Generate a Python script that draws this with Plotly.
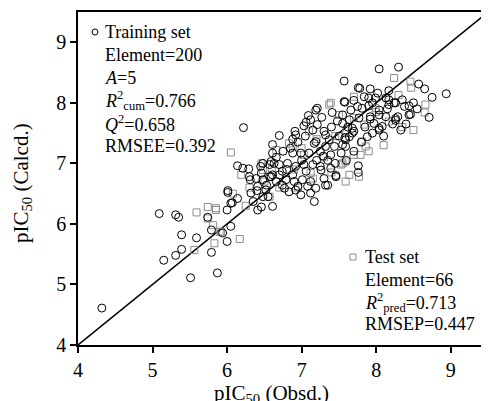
import plotly.graph_objects as go

# Training set (observed, calculated)
train_obsd = [4.32, 5.09, 5.31, 5.35, 5.15, 5.39, 5.31, 5.39, 5.59, 5.51, 5.87, 5.79, 5.79, 6.00, 6.05, 6.00, 5.74, 6.07, 6.22, 6.14,
              6.01, 8.04, 8.30, 7.57, 8.57, 8.65, 8.94, 8.75, 8.71, 8.46, 8.38, 8.44, 8.29, 8.26, 8.33, 7.76, 7.92, 8.02, 8.17, 7.19,
              7.27, 7.09, 7.06, 7.58, 7.41, 7.17, 7.32, 6.83, 7.46, 7.76, 7.76, 6.29, 6.61, 6.63, 6.01, 6.05, 6.14, 6.32, 6.35, 6.41,
              6.46, 6.31, 6.39, 6.48, 6.53, 6.57, 5.94, 6.70, 6.91, 6.92, 7.21, 7.12, 7.21, 6.61, 6.88, 6.99, 7.10, 7.17, 7.32, 7.32,
              7.39, 7.55, 7.64, 7.68, 7.55, 6.48, 6.59, 6.70, 6.74, 6.81, 6.92, 7.03, 7.15, 6.59, 6.70, 6.79, 6.88, 6.90, 7.01, 7.06,
              7.26, 7.39, 7.30, 7.46, 7.35, 6.77, 6.92, 6.99, 7.12, 6.52, 6.48, 6.61, 7.78, 7.84, 7.90, 7.99, 8.13, 7.57, 7.70, 7.75,
              7.81, 8.17, 8.24, 8.44, 7.55, 7.66, 7.64, 7.77, 7.92, 8.04, 7.97, 8.04, 8.08, 7.88, 7.68, 7.58, 7.12, 7.19, 6.41, 6.30,
              6.46, 6.57, 6.61, 6.66, 6.74, 6.21, 7.19, 7.30, 7.37, 7.44, 7.59, 7.59, 7.53, 7.70, 7.92, 8.04, 8.17, 8.26, 7.95, 8.13,
              8.26, 8.04, 8.22, 6.66, 6.85, 6.95, 7.05, 7.15, 7.25, 7.35, 7.45, 7.50, 7.62, 7.70, 7.80, 7.85, 7.95, 8.10, 8.15, 8.35,
              8.50, 7.00, 6.95, 7.08, 6.80, 7.20, 7.40, 7.48, 6.45, 6.75, 6.40, 6.55, 7.25, 7.60, 7.90, 8.40, 8.55, 6.88, 7.03, 7.29]
train_calcd = [4.61, 6.17, 6.15, 6.11, 5.40, 5.82, 5.48, 5.58, 5.77, 5.11, 5.19, 5.90, 5.53, 5.71, 5.96, 6.23, 6.11, 6.35, 7.59, 6.96,
               6.55, 8.56, 8.59, 8.36, 8.31, 8.23, 8.15, 8.09, 7.76, 7.81, 7.94, 7.95, 7.77, 7.71, 7.55, 8.25, 8.23, 8.16, 8.20, 7.88,
               7.76, 7.79, 7.68, 8.01, 7.84, 6.37, 6.64, 6.53, 6.80, 6.96, 6.85, 6.91, 7.31, 7.00, 6.52, 6.34, 6.42, 6.51, 6.37, 6.23,
               6.28, 6.73, 6.75, 6.73, 6.64, 6.78, 5.85, 7.46, 7.53, 7.47, 7.91, 7.72, 7.64, 7.17, 7.17, 7.17, 7.17, 7.33, 7.47, 7.28,
               7.14, 7.31, 7.44, 7.58, 7.66, 7.00, 7.03, 6.98, 6.87, 7.00, 6.95, 6.98, 6.98, 6.78, 6.81, 6.73, 6.81, 6.70, 6.73, 6.87,
               6.89, 6.92, 6.75, 6.78, 6.64, 6.59, 6.56, 6.48, 6.51, 6.56, 6.45, 6.29, 8.24, 8.10, 8.08, 8.08, 8.08, 8.02, 8.04, 7.94,
               7.91, 7.97, 8.00, 7.80, 7.80, 7.88, 7.72, 7.75, 7.77, 7.80, 7.66, 7.55, 7.61, 7.44, 7.50, 7.42, 6.70, 6.59, 6.62, 6.78,
               6.84, 6.98, 6.81, 6.70, 6.64, 6.92, 7.36, 7.53, 7.39, 7.28, 7.39, 7.28, 7.17, 7.53, 7.73, 7.88, 8.05, 8.00, 8.00, 7.77,
               7.74, 7.58, 7.65, 7.10, 7.25, 7.35, 7.45, 7.55, 7.20, 7.05, 7.00, 7.45, 7.60, 7.20, 7.35, 7.60, 7.50, 7.45, 7.90, 8.05,
               8.00, 7.05, 6.62, 6.62, 6.90, 7.05, 7.60, 7.70, 6.95, 7.20, 6.55, 6.45, 6.95, 7.05, 7.95, 7.65, 7.90, 7.40, 7.62, 7.12]

# Test set (observed, calculated)
test_obsd = [5.59, 5.74, 5.85, 5.81, 5.90, 5.83, 6.17, 5.56, 6.05, 6.19, 5.85, 5.74, 5.92, 6.46, 6.66, 7.39, 7.50, 7.10, 6.83, 7.55,
             7.77, 7.12, 6.48, 6.57, 8.46, 8.47, 8.66, 8.65, 8.24, 7.70, 7.84, 7.81, 7.70, 7.59, 8.17, 7.99, 8.30, 7.37, 7.59, 7.64,
             7.86, 7.79, 7.53, 7.03, 6.88, 6.08, 6.30, 6.50, 6.70, 6.90, 7.00, 7.20, 7.30, 7.40, 7.60, 7.70, 7.90, 8.00, 8.10, 8.35,
             8.50, 6.60, 6.95, 7.15, 7.45, 6.25]
test_calcd = [6.19, 6.28, 6.23, 5.98, 5.87, 5.68, 5.75, 5.57, 7.18, 6.81, 6.26, 6.09, 5.87, 7.00, 7.22, 8.00, 7.80, 7.53, 7.33, 7.00,
              6.78, 6.84, 6.89, 6.45, 8.35, 8.25, 7.97, 7.84, 8.41, 8.10, 7.64, 7.36, 7.14, 7.03, 7.69, 7.91, 8.13, 7.97, 6.70, 6.81,
              7.28, 7.14, 6.98, 7.14, 7.28, 6.50, 6.60, 6.70, 6.60, 6.90, 7.25, 7.40, 7.10, 6.85, 7.55, 7.75, 7.20, 7.85, 7.30, 7.60,
              7.55, 6.90, 6.60, 6.75, 7.45, 6.30]

axis_range = [4, 9.5]
tick_vals = [4, 5, 6, 7, 8, 9]
diag_line = [4, 9.5]

x_title = "pIC<sub>50</sub> (Obsd.)"
y_title = "pIC<sub>50</sub> (Calcd.)"
train_text = ["Training set", "Element=200", "<i>A</i>=5", "<i>R</i><sup>2</sup><sub>cum</sub>=0.766",
              "<i>Q</i><sup>2</sup>=0.658", "RMSEE=0.392"]
test_text = ["Test set", "Element=66", "<i>R</i><sup>2</sup><sub>pred</sub>=0.713", "RMSEP=0.447"]

FONT = "Liberation Serif, Times New Roman, serif"
OFF = 8  # page body margin
W, H = 489 - OFF, 401 - OFF
# plot area in page pixels: left 78, right 488, top 12, bottom 345
L, R, T, B = 78 - OFF, W + OFF - 488, 12 - OFF, H + OFF - 345
pw, ph = W - L - R, H - T - B


def px(xp):
    return (xp - OFF - L) / pw


def py(yp):
    return (H - B - (yp - OFF)) / ph


fig = go.Figure()
fig.add_trace(go.Scatter(x=diag_line, y=diag_line, mode="lines",
                         line=dict(color="black", width=1.5), showlegend=False, hoverinfo="skip"))
fig.add_trace(go.Scatter(x=test_obsd, y=test_calcd, mode="markers", name="Test set",
                         marker=dict(symbol="square-open", size=7, color="#8c8c8c", line=dict(width=1)),
                         showlegend=False))
fig.add_trace(go.Scatter(x=train_obsd, y=train_calcd, mode="markers", name="Training set",
                         marker=dict(symbol="circle-open", size=8, color="black", line=dict(width=1)),
                         showlegend=False))

axis_common = dict(range=axis_range, tickvals=tick_vals, showgrid=False, zeroline=False,
                   showline=True, linecolor="black", linewidth=1.5, mirror=True, automargin=False,
                   ticks="outside", ticklen=6, tickwidth=1.5, tickcolor="black",
                   tickfont=dict(family=FONT, size=20, color="black"))
fig.update_xaxes(**axis_common)
fig.update_yaxes(**axis_common)

tfont = dict(family=FONT, size=18, color="black")
ann = [
    dict(x=px(271), y=py(394), xref="paper", yref="paper", text=x_title, showarrow=False,
         xanchor="center", yanchor="middle", font=dict(family=FONT, size=21, color="black")),
    dict(x=px(22), y=py(183), xref="paper", yref="paper", text=y_title, showarrow=False, textangle=-90,
         xanchor="center", yanchor="middle", font=dict(family=FONT, size=21, color="black")),
]
train_y = [32, 55, 78, 101, 123, 146]
for t, yy in zip(train_text, train_y):
    ann.append(dict(x=px(103), y=py(yy), xref="paper", yref="paper", text=t, showarrow=False,
                    xanchor="left", yanchor="middle", font=tfont))
test_y = [257, 280, 302, 324]
for t, yy in zip(test_text, test_y):
    ann.append(dict(x=px(363), y=py(yy), xref="paper", yref="paper", text=t, showarrow=False,
                    xanchor="left", yanchor="middle", font=tfont))

shapes = [
    dict(type="circle", xref="paper", yref="paper", x0=px(92), x1=px(98),
         y0=py(35), y1=py(29), line=dict(color="black", width=1)),
    dict(type="rect", xref="paper", yref="paper", x0=px(350), x1=px(356),
         y0=py(260), y1=py(254), line=dict(color="#8c8c8c", width=1)),
]

fig.update_layout(width=W, height=H, margin=dict(l=L, r=R, t=T, b=B),
                  plot_bgcolor="white", paper_bgcolor="white",
                  annotations=ann, shapes=shapes, showlegend=False)

fig.write_html("out.html")
